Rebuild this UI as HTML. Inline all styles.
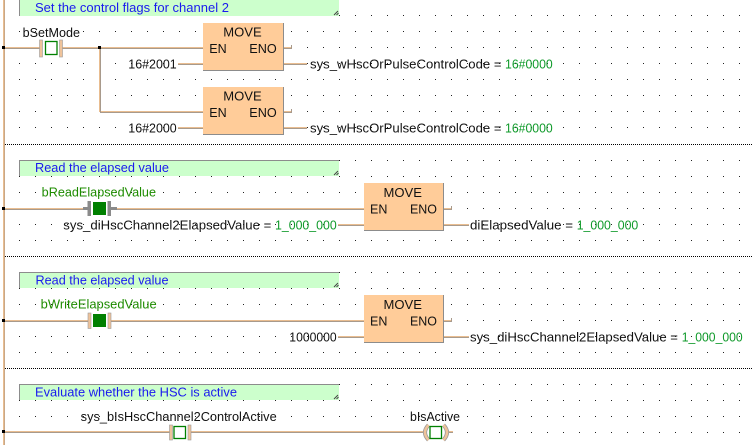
<!DOCTYPE html>
<html>
<head>
<meta charset="utf-8">
<style>
  html,body{margin:0;padding:0;background:#fff;}
  svg{display:block;}
  text{font-family:"Liberation Sans",Arial,sans-serif;}
  .c{font-size:12.5px;fill:#1a1aee;}
  .l{font-size:12.5px;fill:#111;}
  .g{font-size:12.5px;fill:#1e8c00;}
  .k{font-size:12.5px;fill:#0f9a2a;}
  .b{font-size:13px;fill:#111;}
</style>
</head>
<body>
<svg width="753" height="445" viewBox="0 0 753 445" xmlns="http://www.w3.org/2000/svg">
  <defs>
    <pattern id="d1" x="3" y="15" width="16" height="16" patternUnits="userSpaceOnUse">
      <rect x="0" y="0" width="1" height="1" fill="#222"/>
    </pattern>
    <pattern id="d2" x="3" y="0" width="16" height="16" patternUnits="userSpaceOnUse">
      <rect x="0" y="0" width="1" height="1" fill="#222"/>
    </pattern>
  </defs>
  <rect width="753" height="445" fill="#fff"/>
  <!-- dot grids -->
  <rect x="0" y="0" width="753" height="143" fill="url(#d1)"/>
  <rect x="0" y="146" width="753" height="109" fill="url(#d2)"/>
  <rect x="0" y="258" width="753" height="109" fill="url(#d2)"/>
  <rect x="0" y="370" width="753" height="75" fill="url(#d2)"/>

  <!-- separators -->
  <g stroke="#000" stroke-width="1" stroke-dasharray="1 1">
    <line x1="5" y1="144.5" x2="753" y2="144.5"/>
    <line x1="5" y1="256.5" x2="753" y2="256.5"/>
    <line x1="5" y1="368.5" x2="753" y2="368.5"/>
  </g>

  <!-- left rail -->
  <rect x="3" y="0" width="1" height="445" fill="#e9bd90"/>
  <rect x="4" y="0" width="1" height="445" fill="#c9a888"/>

  <!-- comment boxes -->
  <g>
    <rect x="19" y="-1" width="320" height="17" fill="#ccffcc"/>
    <rect x="19" y="-1" width="1" height="17" fill="#8c8c8c"/>
    <rect x="19" y="160" width="320" height="16" fill="#ccffcc"/>
    <rect x="19" y="160" width="320" height="1" fill="#8c8c8c"/>
    <rect x="19" y="160" width="1" height="16" fill="#8c8c8c"/>
    <rect x="19" y="272" width="320" height="16" fill="#ccffcc"/>
    <rect x="19" y="272" width="320" height="1" fill="#8c8c8c"/>
    <rect x="19" y="272" width="1" height="16" fill="#8c8c8c"/>
    <rect x="19" y="384" width="320" height="16" fill="#ccffcc"/>
    <rect x="19" y="384" width="320" height="1" fill="#8c8c8c"/>
    <rect x="19" y="384" width="1" height="16" fill="#8c8c8c"/>
    <g stroke="#444" stroke-width="1">
      <line x1="334" y1="15" x2="338" y2="11"/><line x1="336.5" y1="15" x2="338.5" y2="13"/>
      <line x1="334" y1="175" x2="338" y2="171"/><line x1="336.5" y1="175" x2="338.5" y2="173"/>
      <line x1="334" y1="287" x2="338" y2="283"/><line x1="336.5" y1="287" x2="338.5" y2="285"/>
      <line x1="334" y1="399" x2="338" y2="395"/><line x1="336.5" y1="399" x2="338.5" y2="397"/>
    </g>
  </g>
  <text class="c" x="35" y="12" textLength="194" lengthAdjust="spacingAndGlyphs">Set the control flags for channel 2</text>
  <text class="c" x="35" y="172" textLength="134" lengthAdjust="spacingAndGlyphs">Read the elapsed value</text>
  <text class="c" x="35.5" y="284.5" textLength="133" lengthAdjust="spacingAndGlyphs">Read the elapsed value</text>
  <text class="c" x="35" y="396.5" textLength="202" lengthAdjust="spacingAndGlyphs">Evaluate whether the HSC is active</text>

  <!-- wires: tan top row + grey bottom row -->
  <g fill="#e9bd90">
    <!-- sec1 -->
    <rect x="4" y="47" width="36" height="1"/>
    <rect x="62" y="47" width="141" height="1"/>
    <rect x="99" y="48" width="1" height="64"/>
    <rect x="100" y="111" width="103" height="1"/>
    <rect x="178" y="63" width="25" height="1"/>
    <rect x="178" y="127" width="25" height="1"/>
    <rect x="284" y="63" width="23" height="1"/>
    <rect x="284" y="127" width="23" height="1"/>
    <rect x="284" y="47" width="7" height="1"/>
    <rect x="284" y="111" width="7" height="1"/>
    <!-- sec2 -->
    <rect x="4" y="208" width="79" height="1"/>
    <rect x="117" y="208" width="247" height="1"/>
    <rect x="338" y="224" width="26" height="1"/>
    <rect x="444" y="224" width="25" height="1"/>
    <rect x="444" y="208" width="7" height="1"/>
    <!-- sec3 -->
    <rect x="4" y="320" width="84" height="1"/>
    <rect x="111" y="320" width="253" height="1"/>
    <rect x="338" y="336" width="26" height="1"/>
    <rect x="444" y="336" width="25" height="1"/>
    <rect x="444" y="320" width="7" height="1"/>
    <!-- sec4 -->
    <rect x="4" y="431" width="166" height="1"/>
    <rect x="191" y="431" width="233" height="1"/>
    <rect x="448" y="431" width="5" height="1"/>
  </g>
  <g fill="#a89a8c">
    <rect x="4" y="48" width="36" height="1"/>
    <rect x="62" y="48" width="141" height="1"/>
    <rect x="100" y="48" width="1" height="64"/>
    <rect x="100" y="112" width="103" height="1"/>
    <rect x="178" y="64" width="25" height="1"/>
    <rect x="178" y="128" width="25" height="1"/>
    <rect x="284" y="64" width="23" height="1"/>
    <rect x="284" y="128" width="23" height="1"/>
    <rect x="284" y="48" width="7" height="1"/>
    <rect x="284" y="112" width="7" height="1"/>
    <rect x="291" y="45" width="1" height="4"/>
    <rect x="291" y="109" width="1" height="4"/>
    <rect x="4" y="209" width="79" height="1"/>
    <rect x="117" y="209" width="247" height="1"/>
    <rect x="338" y="225" width="26" height="1"/>
    <rect x="444" y="225" width="25" height="1"/>
    <rect x="444" y="209" width="7" height="1"/>
    <rect x="451" y="206" width="1" height="4"/>
    <rect x="4" y="321" width="84" height="1"/>
    <rect x="111" y="321" width="253" height="1"/>
    <rect x="338" y="337" width="26" height="1"/>
    <rect x="444" y="337" width="25" height="1"/>
    <rect x="444" y="321" width="7" height="1"/>
    <rect x="451" y="318" width="1" height="4"/>
    <rect x="4" y="432" width="166" height="1"/>
    <rect x="191" y="432" width="233" height="1"/>
    <rect x="448" y="432" width="5" height="1"/>
  </g>

  <!-- junction squares -->
  <g fill="#000">
    <rect x="2" y="46" width="3" height="3"/>
    <rect x="98" y="46" width="3" height="3"/>
    <rect x="2" y="207" width="3" height="3"/>
    <rect x="2" y="319" width="3" height="3"/>
    <rect x="2" y="430" width="3" height="3"/>
  </g>

  <!-- MOVE blocks -->
  <g>
    <rect x="203" y="23" width="81" height="48" fill="#ffcc99"/>
    <rect x="283" y="23" width="1" height="48" fill="#8c8c8c"/>
    <rect x="203" y="70" width="81" height="1" fill="#8c8c8c"/>
    <rect x="203" y="87" width="81" height="48" fill="#ffcc99"/>
    <rect x="283" y="87" width="1" height="48" fill="#8c8c8c"/>
    <rect x="203" y="134" width="81" height="1" fill="#8c8c8c"/>
    <rect x="364" y="183" width="80" height="48" fill="#ffcc99"/>
    <rect x="443" y="183" width="1" height="48" fill="#8c8c8c"/>
    <rect x="364" y="230" width="80" height="1" fill="#8c8c8c"/>
    <rect x="364" y="295" width="80" height="48" fill="#ffcc99"/>
    <rect x="443" y="295" width="1" height="48" fill="#8c8c8c"/>
    <rect x="364" y="342" width="80" height="1" fill="#8c8c8c"/>
  </g>
  <text class="b" x="223.3" y="36.5" textLength="38.4" lengthAdjust="spacingAndGlyphs">MOVE</text>
  <text class="b" x="209.3" y="53" textLength="17.4" lengthAdjust="spacingAndGlyphs">EN</text>
  <text class="b" x="249.3" y="53" textLength="27.4" lengthAdjust="spacingAndGlyphs">ENO</text>
  <text class="b" x="223.3" y="100.5" textLength="38.4" lengthAdjust="spacingAndGlyphs">MOVE</text>
  <text class="b" x="209.3" y="117" textLength="17.4" lengthAdjust="spacingAndGlyphs">EN</text>
  <text class="b" x="249.3" y="117" textLength="27.4" lengthAdjust="spacingAndGlyphs">ENO</text>
  <text class="b" x="383.5" y="196.8" textLength="38.4" lengthAdjust="spacingAndGlyphs">MOVE</text>
  <text class="b" x="370" y="213.5" textLength="17.4" lengthAdjust="spacingAndGlyphs">EN</text>
  <text class="b" x="410" y="213.5" textLength="27" lengthAdjust="spacingAndGlyphs">ENO</text>
  <text class="b" x="383.5" y="308.8" textLength="38.4" lengthAdjust="spacingAndGlyphs">MOVE</text>
  <text class="b" x="370" y="325.5" textLength="17.4" lengthAdjust="spacingAndGlyphs">EN</text>
  <text class="b" x="410" y="325.5" textLength="27" lengthAdjust="spacingAndGlyphs">ENO</text>

  <!-- contact 1 (tan, open) -->
  <rect x="39.5" y="40" width="3" height="17" fill="#efc39a" stroke="#9a9a9a" stroke-width="0.6"/>
  <rect x="59.5" y="40" width="3" height="17" fill="#efc39a" stroke="#9a9a9a" stroke-width="0.6"/>
  <rect x="45.5" y="41.5" width="11.5" height="13" fill="#fff" stroke="#008000" stroke-width="1.3"/>

  <!-- contact 2 (grey, active) -->
  <rect x="83" y="207" width="5" height="3" fill="#8a8a8a"/>
  <rect x="87.5" y="201" width="3.5" height="15" fill="#8a8a8a"/>
  <rect x="93" y="202" width="13" height="13" fill="#008000"/>
  <rect x="107.5" y="201" width="3.5" height="15" fill="#8a8a8a"/>
  <rect x="111" y="207" width="6" height="3" fill="#8a8a8a"/>

  <!-- contact 3 (tan, filled) -->
  <rect x="88" y="313" width="3" height="15.5" fill="#efc39a" stroke="#9a9a9a" stroke-width="0.6"/>
  <rect x="108" y="313" width="3" height="15.5" fill="#efc39a" stroke="#9a9a9a" stroke-width="0.6"/>
  <rect x="93" y="314" width="13" height="13" fill="#008000"/>

  <!-- contact 4 (tan, open) -->
  <rect x="169.5" y="425" width="3" height="15" fill="#efc39a" stroke="#9a9a9a" stroke-width="0.6"/>
  <rect x="188" y="425" width="3" height="15" fill="#efc39a" stroke="#9a9a9a" stroke-width="0.6"/>
  <rect x="174" y="426.5" width="11.5" height="12" fill="#fff" stroke="#008000" stroke-width="1.3"/>

  <!-- coil -->
  <path d="M428.5 425 Q421.5 432.5 428.5 440" fill="none" stroke="#9a9a9a" stroke-width="4"/>
  <path d="M428.5 425 Q421.5 432.5 428.5 440" fill="none" stroke="#efc39a" stroke-width="2.4"/>
  <path d="M443.5 425 Q450.5 432.5 443.5 440" fill="none" stroke="#9a9a9a" stroke-width="4"/>
  <path d="M443.5 425 Q450.5 432.5 443.5 440" fill="none" stroke="#efc39a" stroke-width="2.4"/>
  <rect x="430" y="426.5" width="11.5" height="12" fill="#fff" stroke="#008000" stroke-width="1.3"/>

  <!-- labels -->
  <text class="l" x="22.7" y="37" textLength="57.3" lengthAdjust="spacingAndGlyphs">bSetMode</text>
  <text class="l" x="128.3" y="68.5" textLength="48.4" lengthAdjust="spacingAndGlyphs">16#2001</text>
  <text class="l" x="128.3" y="132.5" textLength="48.4" lengthAdjust="spacingAndGlyphs">16#2000</text>
  <text class="l" x="310" y="68.5" textLength="191.5" lengthAdjust="spacingAndGlyphs">sys_wHscOrPulseControlCode =</text>
  <text class="k" x="505" y="68.5" textLength="47.7" lengthAdjust="spacingAndGlyphs">16#0000</text>
  <text class="l" x="310" y="132.5" textLength="191.5" lengthAdjust="spacingAndGlyphs">sys_wHscOrPulseControlCode =</text>
  <text class="k" x="505" y="132.5" textLength="47.7" lengthAdjust="spacingAndGlyphs">16#0000</text>

  <text class="g" x="41.7" y="196.5" textLength="114.3" lengthAdjust="spacingAndGlyphs">bReadElapsedValue</text>
  <text class="l" x="63.3" y="229.5" textLength="208" lengthAdjust="spacingAndGlyphs">sys_diHscChannel2ElapsedValue =</text>
  <text class="k" x="275" y="229.5" textLength="61.7" lengthAdjust="spacingAndGlyphs">1_000_000</text>
  <text class="l" x="470" y="229.5" textLength="103" lengthAdjust="spacingAndGlyphs">diElapsedValue =</text>
  <text class="k" x="576.7" y="229.5" textLength="61.6" lengthAdjust="spacingAndGlyphs">1_000_000</text>

  <text class="g" x="40.7" y="308.5" textLength="116" lengthAdjust="spacingAndGlyphs">bWriteElapsedValue</text>
  <text class="l" x="289.3" y="341.5" textLength="47.4" lengthAdjust="spacingAndGlyphs">1000000</text>
  <text class="l" x="470" y="341.5" textLength="208" lengthAdjust="spacingAndGlyphs">sys_diHscChannel2ElapsedValue =</text>
  <text class="k" x="681.7" y="341.5" textLength="61" lengthAdjust="spacingAndGlyphs">1_000_000</text>

  <text class="l" x="80.7" y="421" textLength="196" lengthAdjust="spacingAndGlyphs">sys_bIsHscChannel2ControlActive</text>
  <text class="l" x="410" y="421" textLength="50" lengthAdjust="spacingAndGlyphs">bIsActive</text>
</svg>
</body>
</html>
